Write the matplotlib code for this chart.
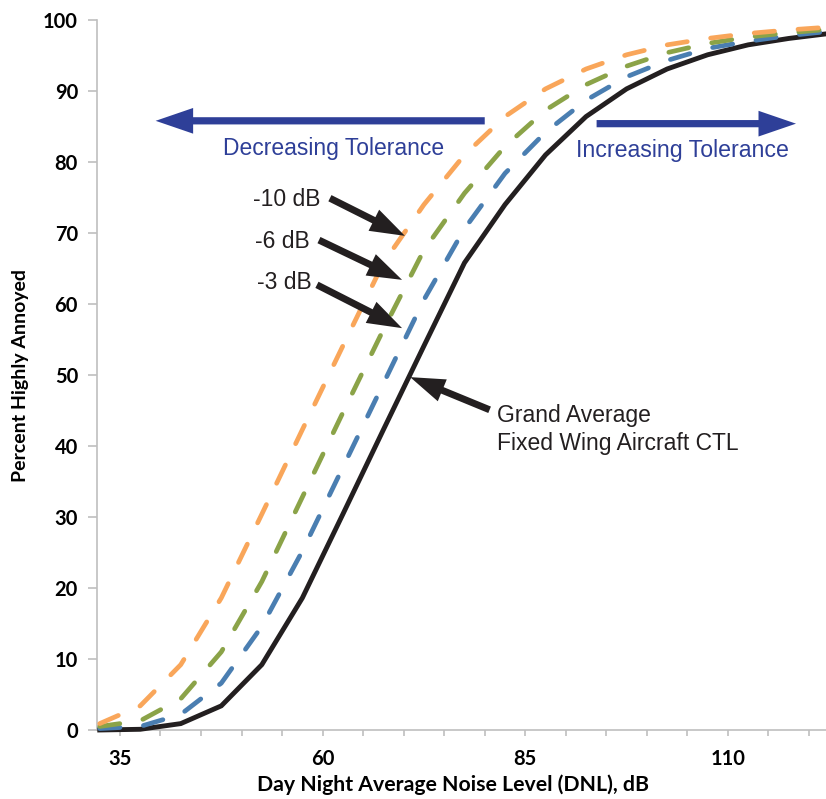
import matplotlib
matplotlib.use("Agg")
import matplotlib.pyplot as plt
from matplotlib.patches import FancyArrowPatch

# DNL values where the curves were sampled (dB)
dnl = [32.5, 37.5, 42.5, 47.5, 52.5, 57.5, 62.5, 67.5, 72.5, 77.5,
       82.5, 87.5, 92.5, 97.5, 102.5, 107.5, 112.5, 117.5, 122.5]

# percent highly annoyed
grand_avg = [0.0, 0.1, 0.9, 3.4, 9.2, 18.6, 30.4, 42.3, 54.1, 65.8,
             74.0, 81.0, 86.4, 90.3, 93.1, 95.1, 96.5, 97.4, 98.1]
minus3 = [0.2, 0.5, 2.2, 6.6, 14.6, 25.2, 37.0, 48.8, 60.6, 70.6,
          78.4, 84.2, 88.7, 92.0, 94.3, 96.0, 97.0, 97.8, 98.4]
minus6 = [0.5, 1.3, 4.4, 11.0, 20.9, 32.8, 44.7, 56.4, 67.6, 75.6,
          82.2, 87.3, 90.9, 93.5, 95.4, 96.7, 97.6, 98.2, 98.7]
minus10 = [0.9, 3.4, 9.2, 18.6, 30.4, 42.3, 54.1, 65.8, 74.0, 81.0,
           86.4, 90.3, 93.1, 95.1, 96.5, 97.4, 98.1, 98.6, 99.0]

xticks_major = [35, 60, 85, 110]
xticks_minor = list(range(35, 125, 5))
yticks = list(range(0, 101, 10))

c_black = "#231F20"
c_blue = "#4A7EB1"
c_green = "#8BA348"
c_orange = "#F9A65A"
c_arrow = "#2E3F98"
c_axis = "#BFBFBF"

tick_font = "Lato"
note_font = "Liberation Sans"

fig = plt.figure(figsize=(8.26, 7.99), dpi=100)
ax = fig.add_axes([96.7 / 826, 1 - 730 / 799, (826 - 96.7) / 826, 710 / 799])

# curves
ax.plot(dnl, grand_avg, color=c_black, lw=3.5, solid_joinstyle="miter",
        clip_on=False, zorder=3)
dash = (4.3, 5.0)
for vals, col in [(minus3, c_blue), (minus6, c_green), (minus10, c_orange)]:
    ax.plot(dnl, vals, color=col, lw=3.4, dashes=dash,
            dash_capstyle="round", clip_on=False, zorder=4)

ax.set_xlim(32.13, 122.1)
ax.set_ylim(0, 100)

for s in ["top", "right"]:
    ax.spines[s].set_visible(False)
for s in ["left", "bottom"]:
    ax.spines[s].set_color(c_axis)
    ax.spines[s].set_linewidth(1.2)

ax.set_xticks(xticks_minor, minor=True)
ax.set_xticks(xticks_major)
ax.set_xticklabels([str(v) for v in xticks_major], fontfamily=tick_font,
                   fontweight="bold", fontsize=14.5)
ax.set_yticks(yticks)
ax.set_yticklabels([str(v) for v in yticks], fontfamily=tick_font,
                   fontweight="bold", fontsize=14.5)
ax.tick_params(axis="y", which="both", direction="out", length=6.5,
               width=1.2, color=c_axis, pad=7)
ax.tick_params(axis="x", which="both", direction="out", length=4.5,
               width=1.2, color=c_axis, pad=9)

ax.set_xlabel("Day Night Average Noise Level (DNL), dB", fontfamily=tick_font,
              fontweight="bold", fontsize=15.3, va="center")
ax.xaxis.set_label_coords(0.4886, -0.0775)
ax.set_ylabel("Percent Highly Annoyed", fontfamily=tick_font,
              fontweight="bold", fontsize=14, va="center")
ax.yaxis.set_label_coords(-0.105, 0.5)


def arrow(x0, y0, x1, y1, col, hl, hw, tw):
    a = FancyArrowPatch((x0, y0), (x1, y1),
                        arrowstyle=f"simple,head_length={hl},head_width={hw},tail_width={tw}",
                        color=col, lw=0, shrinkA=0, shrinkB=0,
                        mutation_scale=1, zorder=6, clip_on=False)
    ax.add_patch(a)


# tolerance arrows
arrow(80.0, 85.8, 39.4, 85.8, c_arrow, 27, 18.5, 5.2)
arrow(93.8, 85.4, 118.4, 85.4, c_arrow, 27, 18.5, 5.2)
ax.text(47.7, 81.0, "Decreasing Tolerance", color=c_arrow, fontfamily=note_font,
        fontsize=16.5, ha="left", va="baseline")
ax.text(91.2, 80.7, "Increasing Tolerance", color=c_arrow, fontfamily=note_font,
        fontsize=16.7, ha="left", va="baseline")

# curve labels with black arrows
arrow(60.9, 74.9, 70.15, 69.6, c_black, 25, 17, 5.0)
arrow(59.55, 69.0, 69.8, 63.4, c_black, 25, 17, 5.0)
arrow(59.3, 62.7, 69.8, 56.6, c_black, 25, 17, 5.0)
arrow(80.6, 45.1, 70.8, 49.7, c_black, 25, 17, 5.0)

ax.text(51.4, 73.85, "-10 dB", color=c_black, fontfamily=note_font,
        fontsize=16.5, ha="left", va="baseline")
ax.text(51.66, 67.9, "-6 dB", color=c_black, fontfamily=note_font,
        fontsize=16.5, ha="left", va="baseline")
ax.text(51.9, 62.07, "-3 dB", color=c_black, fontfamily=note_font,
        fontsize=16.5, ha="left", va="baseline")
ax.text(81.5, 43.4, "Grand Average", color=c_black, fontfamily=note_font,
        fontsize=16.5, ha="left", va="baseline")
ax.text(81.5, 39.4, "Fixed Wing Aircraft CTL", color=c_black,
        fontfamily=note_font, fontsize=16.5, ha="left", va="baseline")

fig.savefig("out.png", dpi=100)
